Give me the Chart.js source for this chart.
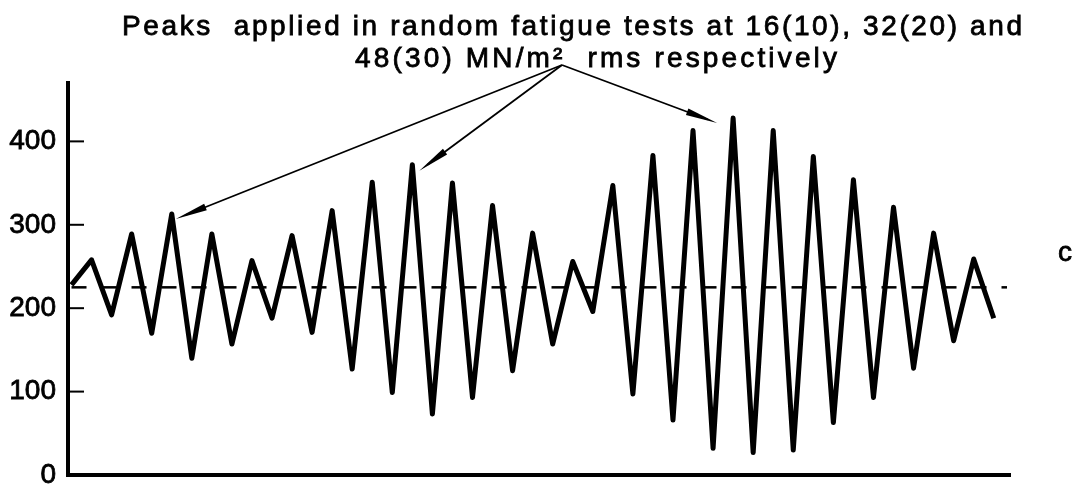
<!DOCTYPE html>
<html>
<head>
<meta charset="utf-8">
<script src="https://cdn.jsdelivr.net/npm/chart.js@4.4.0/dist/chart.umd.min.js"></script>
<style>
  html, body { margin: 0; padding: 0; background: #fff; }
</style>
</head>
<body>
<canvas id="chart" width="1078" height="485"></canvas>
<script>
// reversal number along the loading history (one point per peak / trough)
const reversals = [1, 2, 3, 4, 5, 6, 7, 8, 9, 10, 11, 12, 13, 14, 15, 16, 17, 18, 19, 20,
  21, 22, 23, 24, 25, 26, 27, 28, 29, 30, 31, 32, 33, 34, 35, 36, 37, 38, 39, 40,
  41, 42, 43, 44, 45, 46, 47];
// stress at each reversal, MN/m^2
const stress = [228, 258, 192, 289, 170, 313, 140, 289, 157, 257, 188, 287, 171, 317, 127,
  351, 99, 372, 73, 350, 93, 323, 125, 290, 157, 256, 196, 347, 97, 383, 66, 413, 32,
  428, 27, 413, 30, 382, 63, 354, 93, 321, 128, 290, 161, 259, 188];
// mean stress (dashed line) and the reversals it runs between
const meanStress = 225;
const meanSpan = [1, 47.66];
const yTicks = [0, 100, 200, 300, 400];

const titleLines = [
  'Peaks  applied in random fatigue tests at 16(10), 32(20) and',
  '48(30) MN/m²  rms respectively'
];
const curveLabel = 'c';
// the three peaks the arrows point at (reversal numbers)
const arrowedPeaks = [6, 18, 34];

const FONT = '"Liberation Sans", Arial, sans-serif';

// spread text out so it fills a given width, like the lettering on the drawing
function drawSpaced(ctx, text, left, base, width) {
  const chars = [...text];
  const natural = chars.reduce((s, c) => s + ctx.measureText(c).width, 0);
  const gap = (width - natural) / (chars.length - 1);
  let px = left;
  chars.forEach(c => {
    ctx.fillText(c, px, base);
    ctx.strokeText(c, px, base);
    px += ctx.measureText(c).width + gap;
  });
}

function arrow(ctx, x0, y0, x1, y1) {
  const ang = Math.atan2(y1 - y0, x1 - x0);
  const len = 32, half = 3.5;
  ctx.beginPath();
  ctx.moveTo(x0, y0);
  ctx.lineTo(x1 - Math.cos(ang) * 10, y1 - Math.sin(ang) * 10);
  ctx.stroke();
  const bx = x1 - Math.cos(ang) * len, by = y1 - Math.sin(ang) * len;
  ctx.beginPath();
  ctx.moveTo(x1, y1);
  ctx.lineTo(bx + Math.sin(ang) * half, by - Math.cos(ang) * half);
  ctx.lineTo(bx - Math.sin(ang) * half, by + Math.cos(ang) * half);
  ctx.closePath();
  ctx.fill();
}

const extras = {
  id: 'extras',
  afterDraw(chart) {
    const { ctx, scales: { x, y } } = chart;
    ctx.save();
    ctx.strokeStyle = '#000';
    ctx.fillStyle = '#000';

    // tick marks point inwards on this drawing
    ctx.lineWidth = 2;
    yTicks.forEach(v => {
      if (v === 0) return;
      const py = y.getPixelForValue(v);
      ctx.beginPath();
      ctx.moveTo(x.left, py);
      ctx.lineTo(x.left + 16, py);
      ctx.stroke();
    });

    // heading
    ctx.font = '28px ' + FONT;
    ctx.lineWidth = 0.8;
    ctx.textBaseline = 'alphabetic';
    ctx.textAlign = 'left';
    drawSpaced(ctx, titleLines[0], 122, 35, 900);
    drawSpaced(ctx, titleLines[1], 355, 67, 482);

    // curve label
    ctx.textAlign = 'center';
    ctx.fillText(curveLabel, 1065, 261);
    ctx.strokeText(curveLabel, 1065, 261);

    // arrows from the heading to the three peaks
    const apex = [562, 65];
    const offs = [[4, 5], [7, 6], [-16, 5]];
    ctx.lineWidth = 1.8;
    arrowedPeaks.forEach((r, i) => {
      const tx = x.getPixelForValue(r) + offs[i][0];
      const ty = y.getPixelForValue(stress[r - 1]) + offs[i][1];
      arrow(ctx, apex[0], apex[1], tx, ty);
    });
    ctx.restore();
  }
};

new Chart(document.getElementById('chart'), {
  type: 'line',
  data: {
    datasets: [
      {
        data: reversals.map((r, i) => ({ x: r, y: stress[i] })),
        borderColor: '#000',
        borderWidth: 5,
        borderJoinStyle: 'round',
        pointRadius: 0,
        tension: 0
      },
      {
        data: meanSpan.map(r => ({ x: r, y: meanStress })),
        borderColor: '#000',
        borderWidth: 2.5,
        borderDash: [15, 15],
        pointRadius: 0
      }
    ]
  },
  options: {
    responsive: false,
    animation: false,
    layout: { autoPadding: false, padding: { top: 83, right: 68, bottom: 10, left: 0 } },
    plugins: {
      legend: { display: false },
      tooltip: { enabled: false }
    },
    scales: {
      x: {
        type: 'linear',
        min: 0.825,
        max: 47.81,
        grid: { display: false, drawTicks: false },
        border: { display: true, width: 4, color: '#000' },
        ticks: { display: false },
        afterFit(scale) { scale.height = 0; scale.paddingLeft = 0; scale.paddingRight = 0; }
      },
      y: {
        min: 0,
        max: 470,
        grid: { display: false, drawTicks: false },
        border: { display: true, width: 4, color: '#000' },
        afterBuildTicks(scale) { scale.ticks = yTicks.map(v => ({ value: v })); },
        afterFit(scale) { scale.width = 68; scale.paddingTop = 0; scale.paddingBottom = 0; },
        ticks: {
          padding: 12,
          color: '#000',
          textStrokeColor: '#000',
          textStrokeWidth: 0.8,
          font: { family: FONT, size: 28 }
        }
      }
    }
  },
  plugins: [extras]
});
</script>
</body>
</html>
